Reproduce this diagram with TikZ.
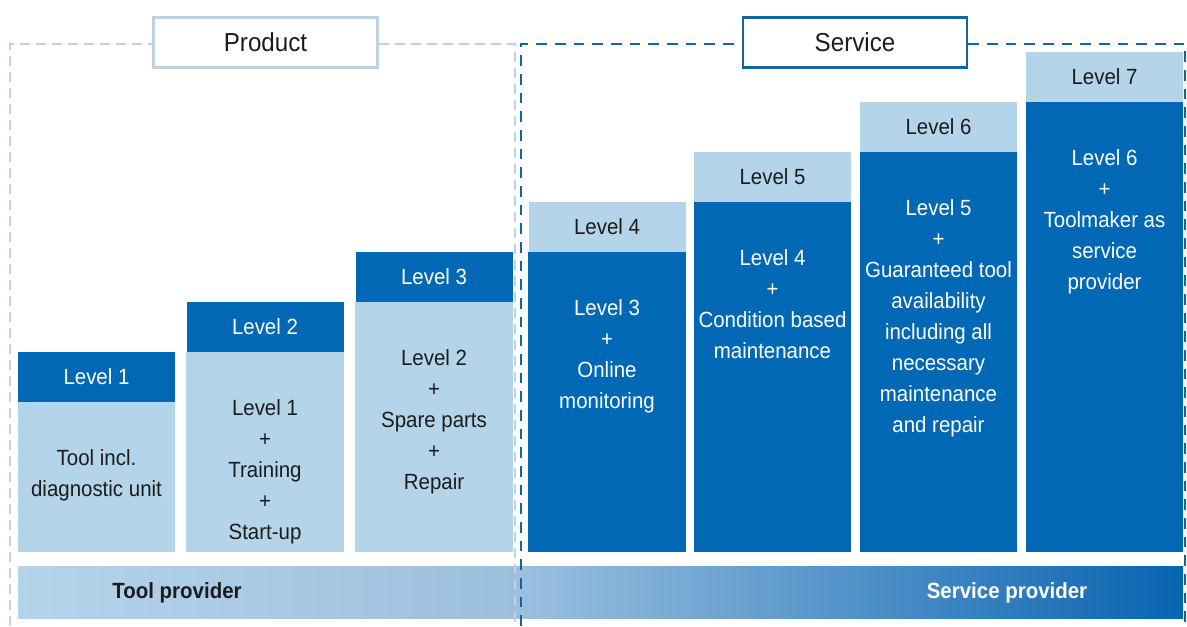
\documentclass[tikz,border=0pt]{standalone}
\usepackage{fontspec}
\setmainfont{Liberation Sans}[FakeStretch=0.93]
\usetikzlibrary{positioning}
\definecolor{darkblue}{RGB}{0,104,180}
\definecolor{liteblue}{RGB}{180,212,234}
\definecolor{framelite}{RGB}{190,211,226}
\definecolor{framedark}{RGB}{20,100,160}
\definecolor{inkgray}{RGB}{28,28,28}
\newcommand{\levelfont}{\fontsize{16.5}{23.25}\selectfont}
\tikzset{
  hdrdark/.style={fill=darkblue, text=white, minimum width=117.75pt, minimum height=37.5pt, inner sep=0pt, font=\levelfont},
  hdrlite/.style={fill=liteblue, text=inkgray, minimum width=117.75pt, minimum height=37.5pt, inner sep=0pt, font=\levelfont},
  bodytxt/.style={align=center, inner sep=0pt, font=\levelfont},
  framebox/.style={fill=white, line width=2.2pt, minimum width=168pt, minimum height=38pt, inner sep=0pt, text=inkgray, font=\fontsize{19.5}{24}\selectfont},
  litedash/.style={draw=framelite, line width=1.8pt, dash pattern=on 7.5pt off 4.5pt},
  darkdash/.style={draw=framedark, line width=2.2pt, dash pattern=on 8pt off 6pt},
  bartxt/.style={inner sep=0pt, font=\levelfont\bfseries}
}
\begin{document}
\begin{tikzpicture}[x=0.75pt, y=-0.75pt]
  %%%%% START %%%%%
  \useasboundingbox (0,0) rectangle (1187,626);
  \coordinate (base) at (0,552);

  % bottom bar
  \shade[left color=liteblue, right color={rgb,255:red,156;green,191;blue,221}] (18,566) rectangle (518,618);
  \shade[left color={rgb,255:red,155;green,192;blue,224}, middle color={rgb,255:red,92;green,145;blue,200}, right color={rgb,255:red,8;green,100;blue,176}] (518,566) rectangle (1183,618);
  \node[bartxt, text=inkgray] (toolprov) at (177,593) {Tool provider};
  \node[bartxt, text=white] (servprov) at (1007,593) {Service provider};

  % product levels
  \node[hdrdark] (h1) at (96.5,377) {Level 1};
  \fill[liteblue] (h1.south west) rectangle (h1.east |- base);
  \node[bodytxt, text=inkgray, below=35pt of h1] (t1) {Tool incl.\\diagnostic unit};

  \node[hdrdark] (h2) at (265,327) {Level 2};
  \fill[liteblue] (h2.south west) rectangle (h2.east |- base);
  \node[bodytxt, text=inkgray, below=35pt of h2] (t2) {Level 1\\+\\Training\\+\\Start-up};

  \node[hdrdark] (h3) at (434,277) {Level 3};
  \fill[liteblue] (h3.south west) rectangle (h3.east |- base);
  \node[bodytxt, text=inkgray, below=35pt of h3] (t3) {Level 2\\+\\Spare parts\\+\\Repair};

  % service levels
  \node[hdrlite] (h4) at (607,227) {Level 4};
  \fill[darkblue] (h4.south west) rectangle (h4.east |- base);
  \node[bodytxt, text=white, below=35pt of h4] (t4) {Level 3\\+\\Online\\monitoring};

  \node[hdrlite] (h5) at (772.5,177) {Level 5};
  \fill[darkblue] (h5.south west) rectangle (h5.east |- base);
  \node[bodytxt, text=white, below=35pt of h5] (t5) {Level 4\\+\\Condition based\\maintenance};

  \node[hdrlite] (h6) at (938.5,127) {Level 6};
  \fill[darkblue] (h6.south west) rectangle (h6.east |- base);
  \node[bodytxt, text=white, below=35pt of h6] (t6) {Level 5\\+\\Guaranteed tool\\availability\\including all\\necessary\\maintenance\\and repair};

  \node[hdrlite] (h7) at (1104.5,77) {Level 7};
  \fill[darkblue] (h7.south west) rectangle (h7.east |- base);
  \node[bodytxt, text=white, below=35pt of h7] (t7) {Level 6\\+\\Toolmaker as\\service\\provider};

  % frames
  \node[framebox, draw=framelite] (prod) at (265.5,42.5) {Product};
  \node[framebox, draw=framedark] (serv) at (855,42.5) {Service};
  \coordinate (pbl) at (10,626);
  \coordinate (ptl) at (10,44);
  \coordinate (ptr) at (515,44);
  \coordinate (pbr) at (515,626);
  \coordinate (sbl) at (521,626);
  \coordinate (stl) at (521,44);
  \coordinate (str) at (1185,44);
  \coordinate (sbr) at (1185,626);
  \draw[litedash] (pbl) -- (ptl) -- (prod.west |- ptl);
  \draw[litedash] (prod.east |- ptr) -- (ptr) -- (pbr);
  \draw[darkdash] (sbl) -- (stl) -- (serv.west |- stl);
  \draw[darkdash] (serv.east |- str) -- (str) -- (sbr);
  %%%%% END %%%%%
\end{tikzpicture}
\end{document}
